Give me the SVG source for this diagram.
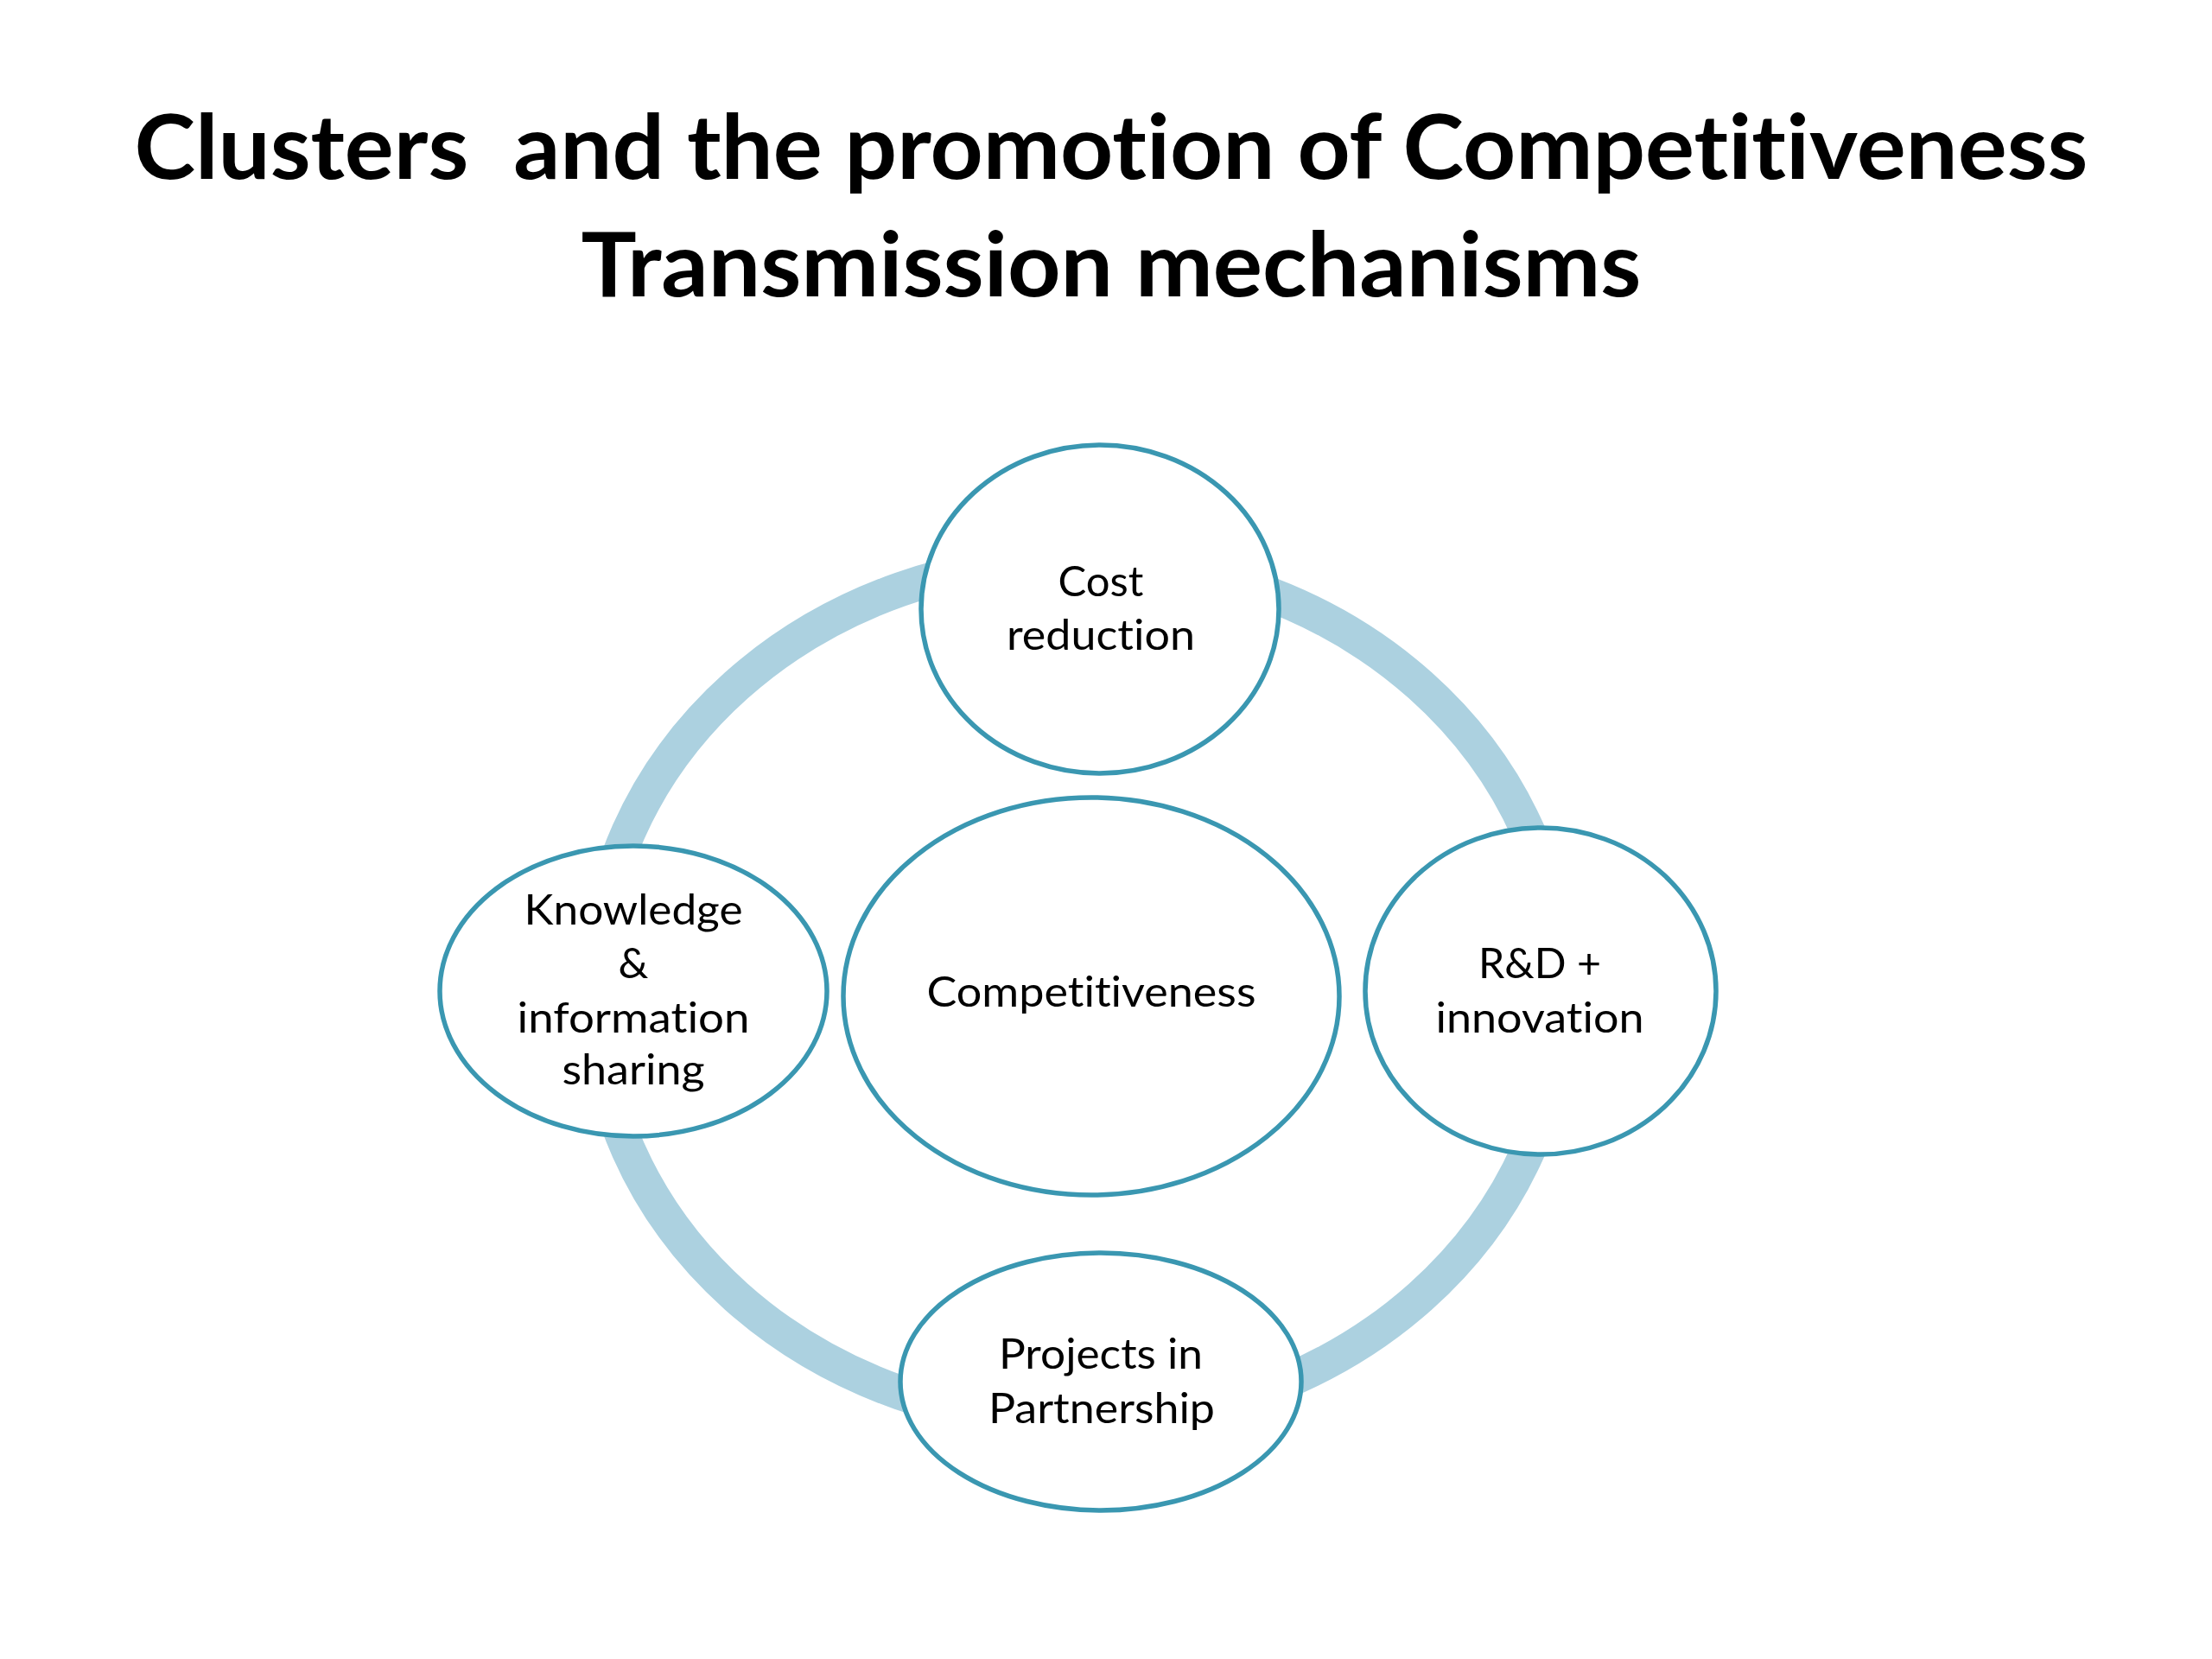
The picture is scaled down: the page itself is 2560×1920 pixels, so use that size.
<svg xmlns="http://www.w3.org/2000/svg" width="2560" height="1920" viewBox="0 0 2560 1920">
  <style>
    text { font-variant-ligatures: none; font-feature-settings: "liga" 0, "clig" 0; }
    .title { font-family: Lato, "Liberation Sans", sans-serif; font-weight: bold; font-size: 104px; fill: #000; text-anchor: middle; white-space: pre; }
    .lbl { font-family: Lato, "Liberation Sans", sans-serif; font-size: 49px; fill: #000; text-anchor: middle; }
    .node { fill: #ffffff; stroke: #3a97b1; stroke-width: 5.5; }
    .ring { fill: none; stroke: #acd1e0; stroke-width: 40; }
  </style>
  <rect x="0" y="0" width="2560" height="1920" fill="#ffffff"/>
  <g id="title">
    <text class="title" x="1286" y="207" textLength="2261" lengthAdjust="spacingAndGlyphs" xml:space="preserve">Clusters  and the promotion of Competitiveness</text>
    <text class="title" x="1286" y="343" textLength="1227" lengthAdjust="spacingAndGlyphs">Transmission mechanisms</text>
  </g>
  <g id="connectors">
    <ellipse class="ring" cx="1248" cy="1147" rx="560" ry="500"/>
  </g>
  <g id="node-competitiveness">
    <ellipse class="node" cx="1263" cy="1153" rx="287" ry="230"/>
    <text class="lbl" x="1263" y="1165" textLength="381" lengthAdjust="spacingAndGlyphs">Competitiveness</text>
  </g>
  <g id="node-cost">
    <ellipse class="node" cx="1273" cy="705" rx="207" ry="190"/>
    <text class="lbl" x="1274" y="690">Cost</text>
    <text class="lbl" x="1274" y="752" textLength="218" lengthAdjust="spacingAndGlyphs">reduction</text>
  </g>
  <g id="node-knowledge">
    <ellipse class="node" cx="733" cy="1147" rx="224" ry="168"/>
    <text class="lbl" x="733" y="1070" textLength="253" lengthAdjust="spacingAndGlyphs">Knowledge</text>
    <text class="lbl" x="733" y="1132">&amp;</text>
    <text class="lbl" x="733" y="1195" textLength="269" lengthAdjust="spacingAndGlyphs">information</text>
    <text class="lbl" x="733" y="1255" textLength="165" lengthAdjust="spacingAndGlyphs">sharing</text>
  </g>
  <g id="node-rd">
    <ellipse class="node" cx="1783" cy="1147" rx="203" ry="189"/>
    <text class="lbl" x="1782" y="1132" textLength="142" lengthAdjust="spacingAndGlyphs">R&amp;D +</text>
    <text class="lbl" x="1782" y="1195" textLength="241" lengthAdjust="spacingAndGlyphs">innovation</text>
  </g>
  <g id="node-projects">
    <ellipse class="node" cx="1274" cy="1599" rx="232" ry="149"/>
    <text class="lbl" x="1274" y="1584" textLength="236" lengthAdjust="spacingAndGlyphs">Projects in</text>
    <text class="lbl" x="1275" y="1647" textLength="262" lengthAdjust="spacingAndGlyphs">Partnership</text>
  </g>
</svg>
